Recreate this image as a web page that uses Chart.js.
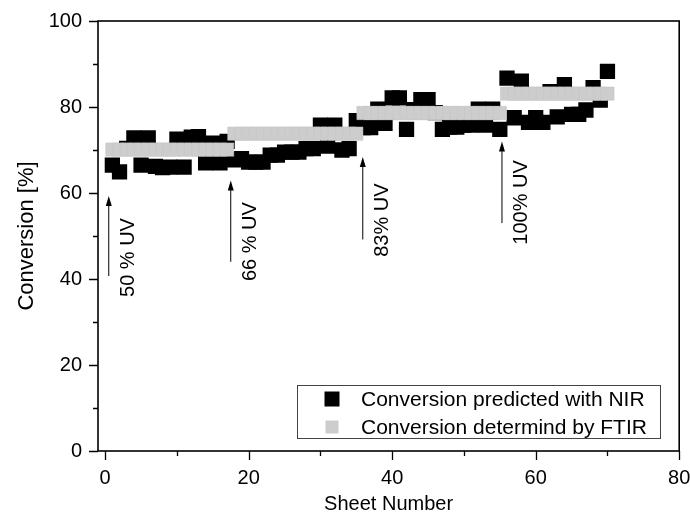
<!DOCTYPE html>
<html>
<head>
<meta charset="utf-8">
<script src="https://cdn.jsdelivr.net/npm/chart.js@4"></script>
<style>
  html, body { margin: 0; padding: 0; background: #fff; }
</style>
</head>
<body>
<canvas id="convChart" width="690" height="516"></canvas>
<script>
// sheet numbers
const sheets = [1, 2, 3, 4, 5, 6, 7, 8, 9, 10, 11, 12, 13, 14, 15, 16, 17, 18, 19, 20,
    21, 22, 23, 24, 25, 26, 27, 28, 29, 30, 31, 32, 33, 34, 35, 36, 37, 38, 39, 40,
    41, 42, 43, 44, 45, 46, 47, 48, 49, 50, 51, 52, 53, 54, 55, 56, 57, 58, 59, 60,
    61, 62, 63, 64, 65, 66, 67, 68, 69, 70];

// conversion predicted with NIR [%]
const nirValues = [66.5, 64.9, 70.4, 72.8, 66.5, 72.8, 66.2, 65.9, 66.0, 72.5,
    66.0, 73.0, 73.1, 67.0, 71.6, 67.0, 72.0, 67.7, 68.0, 67.2,
    67.2, 67.2, 68.8, 68.8, 69.5, 69.5, 69.5, 70.3, 70.3, 75.8,
    70.9, 75.8, 70.0, 70.3, 76.8, 75.2, 75.2, 79.5, 76.2, 82.1,
    82.1, 74.8, 79.4, 81.7, 81.7, 78.7, 74.8, 75.3, 75.3, 75.8,
    75.8, 79.5, 75.8, 79.5, 74.8, 86.7, 77.5, 86.0, 76.4, 77.5,
    76.4, 83.6, 77.7, 85.2, 78.3, 78.3, 79.3, 84.5, 81.6, 88.3];

// conversion determined by FTIR [%]
const ftirValues = [70.1, 70.1, 70.1, 70.1, 70.1, 70.1, 70.1, 70.1, 70.1, 70.1,
    70.1, 70.1, 70.1, 70.1, 70.1, 70.1, 70.1, 73.8, 73.8, 73.8,
    73.8, 73.8, 73.8, 73.8, 73.8, 73.8, 73.8, 73.8, 73.8, 73.8,
    73.8, 73.8, 73.8, 73.8, 73.8, 78.6, 78.6, 78.6, 78.6, 78.6,
    78.6, 78.6, 78.6, 78.6, 78.6, 78.6, 78.6, 78.6, 78.6, 78.6,
    78.6, 78.6, 78.6, 78.6, 78.6, 83.1, 83.1, 83.1, 83.1, 83.1,
    83.1, 83.1, 83.1, 83.1, 83.1, 83.1, 83.1, 83.1, 83.1, 83.1];

// UV dose markers
const uvLabels = ["50 % UV", "66 % UV", "83% UV", "100% UV"];
const uvArrowX = [0.5, 17.5, 35.9, 55.3];
const uvArrowFrom = [40.7, 44.0, 49.2, 53.0];
const uvArrowTo = [59.3, 62.9, 68.4, 72.0];
const uvLabelX = [3.3, 20.3, 38.7, 58.0];
const uvLabelY = [45.0, 48.7, 53.7, 57.8];

const xTicks = [0, 10, 20, 30, 40, 50, 60, 70, 80];
const yTicks = [0, 10, 20, 30, 40, 50, 60, 70, 80, 90, 100];

const seriesNames = ["Conversion predicted with NIR", "Conversion determind by FTIR"];

const FONT = "'Liberation Sans', Arial, sans-serif";

const nirPoints = sheets.map((s, i) => ({x: s, y: nirValues[i]}));
const ftirPoints = sheets.map((s, i) => ({x: s, y: ftirValues[i]}));

// frame, tick marks, arrows, labels and legend
const decorations = {
    id: "decorations",
    afterDraw(chart) {
        const ctx = chart.ctx;
        const xs = chart.scales.x, ys = chart.scales.y;
        const a = chart.chartArea;
        ctx.save();
        ctx.strokeStyle = "#000";
        ctx.fillStyle = "#000";

        // ticks (outward)
        ctx.lineWidth = 1.3;
        ctx.beginPath();
        xTicks.forEach(v => {
            const px = Math.round(xs.getPixelForValue(v)) + 0.5;
            const len = v % 20 === 0 ? 9 : 5;
            ctx.moveTo(px, a.bottom);
            ctx.lineTo(px, a.bottom + len);
        });
        yTicks.forEach(v => {
            const py = Math.round(ys.getPixelForValue(v)) + 0.5;
            const len = v % 20 === 0 ? 9 : 5;
            ctx.moveTo(a.left, py);
            ctx.lineTo(a.left - len, py);
        });
        ctx.stroke();

        // frame
        ctx.lineWidth = 1.6;
        ctx.strokeRect(a.left, a.top, a.right - a.left, a.bottom - a.top);

        // arrows
        ctx.lineWidth = 1;
        uvArrowX.forEach((xv, i) => {
            const px = xs.getPixelForValue(xv);
            const y0 = ys.getPixelForValue(uvArrowFrom[i]);
            const y1 = ys.getPixelForValue(uvArrowTo[i]);
            ctx.beginPath();
            ctx.moveTo(px, y0);
            ctx.lineTo(px, y1 + 8);
            ctx.stroke();
            ctx.beginPath();
            ctx.moveTo(px, y1);
            ctx.lineTo(px - 3, y1 + 10);
            ctx.lineTo(px + 3, y1 + 10);
            ctx.closePath();
            ctx.fill();
        });

        // rotated labels
        ctx.font = "20px " + FONT;
        ctx.textAlign = "center";
        ctx.textBaseline = "middle";
        uvLabels.forEach((t, i) => {
            ctx.save();
            ctx.translate(xs.getPixelForValue(uvLabelX[i]), ys.getPixelForValue(uvLabelY[i]));
            ctx.rotate(-Math.PI / 2);
            ctx.fillText(t, 0, 0);
            ctx.restore();
        });

        // legend box
        const lx = 297, ly = 385, lw = 363, lh = 53;
        ctx.lineWidth = 1;
        ctx.strokeStyle = "#444";
        ctx.strokeRect(lx + 0.5, ly + 0.5, lw, lh);
        const colors = ["#000000", "#cdcdcd"];
        const sizes = [15, 13];
        ctx.textAlign = "left";
        ctx.font = "21px " + FONT;
        seriesNames.forEach((name, i) => {
            const cy = ly + 14 + i * 28;
            ctx.fillStyle = colors[i];
            ctx.fillRect(332 - sizes[i] / 2, cy - sizes[i] / 2, sizes[i], sizes[i]);
            ctx.fillStyle = "#000";
            ctx.fillText(name, 361, cy + 1);
        });
        ctx.restore();
    }
};

const ctx = document.getElementById("convChart").getContext("2d");
new Chart(ctx, {
    type: "scatter",
    data: {
        datasets: [{
            label: seriesNames[1],
            data: ftirPoints,
            pointStyle: "rect",
            pointRadius: 9.4,
            pointHoverRadius: 9.4,
            backgroundColor: "#cdcdcd",
            borderColor: "#c4c4c4",
            borderWidth: 0.5,
            order: 0
        }, {
            label: seriesNames[0],
            data: nirPoints,
            pointStyle: "rect",
            pointRadius: 10.8,
            pointHoverRadius: 10.8,
            backgroundColor: "#000000",
            borderColor: "#000000",
            borderWidth: 0,
            order: 1
        }]
    },
    options: {
        responsive: false,
        animation: false,
        events: [],
        layout: { padding: { top: 21, right: 10, left: 0, bottom: 0 } },
        plugins: {
            legend: { display: false },
            tooltip: { enabled: false }
        },
        scales: {
            x: {
                type: "linear",
                min: -1,
                max: 80,
                afterFit: s => { s.height = 65; s.paddingLeft = 0; s.paddingRight = 0; },
                afterBuildTicks: s => { s.ticks = xTicks.map(v => ({value: v})); },
                grid: { display: false, drawTicks: false },
                border: { display: false },
                ticks: {
                    padding: 15,
                    color: "#000",
                    font: { family: FONT, size: 20 },
                    maxRotation: 0,
                    autoSkip: false,
                    callback: v => (v % 20 === 0 ? String(v) : "")
                },
                title: {
                    display: true,
                    text: "Sheet Number",
                    color: "#000",
                    font: { family: FONT, size: 20 },
                    padding: { top: 0, bottom: 0 }
                }
            },
            y: {
                type: "linear",
                min: 0,
                max: 100,
                afterFit: s => { s.width = 98; s.paddingTop = 0; s.paddingBottom = 0; },
                afterBuildTicks: s => { s.ticks = yTicks.map(v => ({value: v})); },
                grid: { display: false, drawTicks: false },
                border: { display: false },
                ticks: {
                    padding: 16,
                    color: "#000",
                    font: { family: FONT, size: 20 },
                    autoSkip: false,
                    callback: v => (v % 20 === 0 ? String(v) : "")
                },
                title: {
                    display: true,
                    text: "Conversion [%]",
                    color: "#000",
                    font: { family: FONT, size: 22 },
                    padding: { top: 14, bottom: 0 }
                }
            }
        }
    },
    plugins: [decorations]
});
</script>
</body>
</html>
